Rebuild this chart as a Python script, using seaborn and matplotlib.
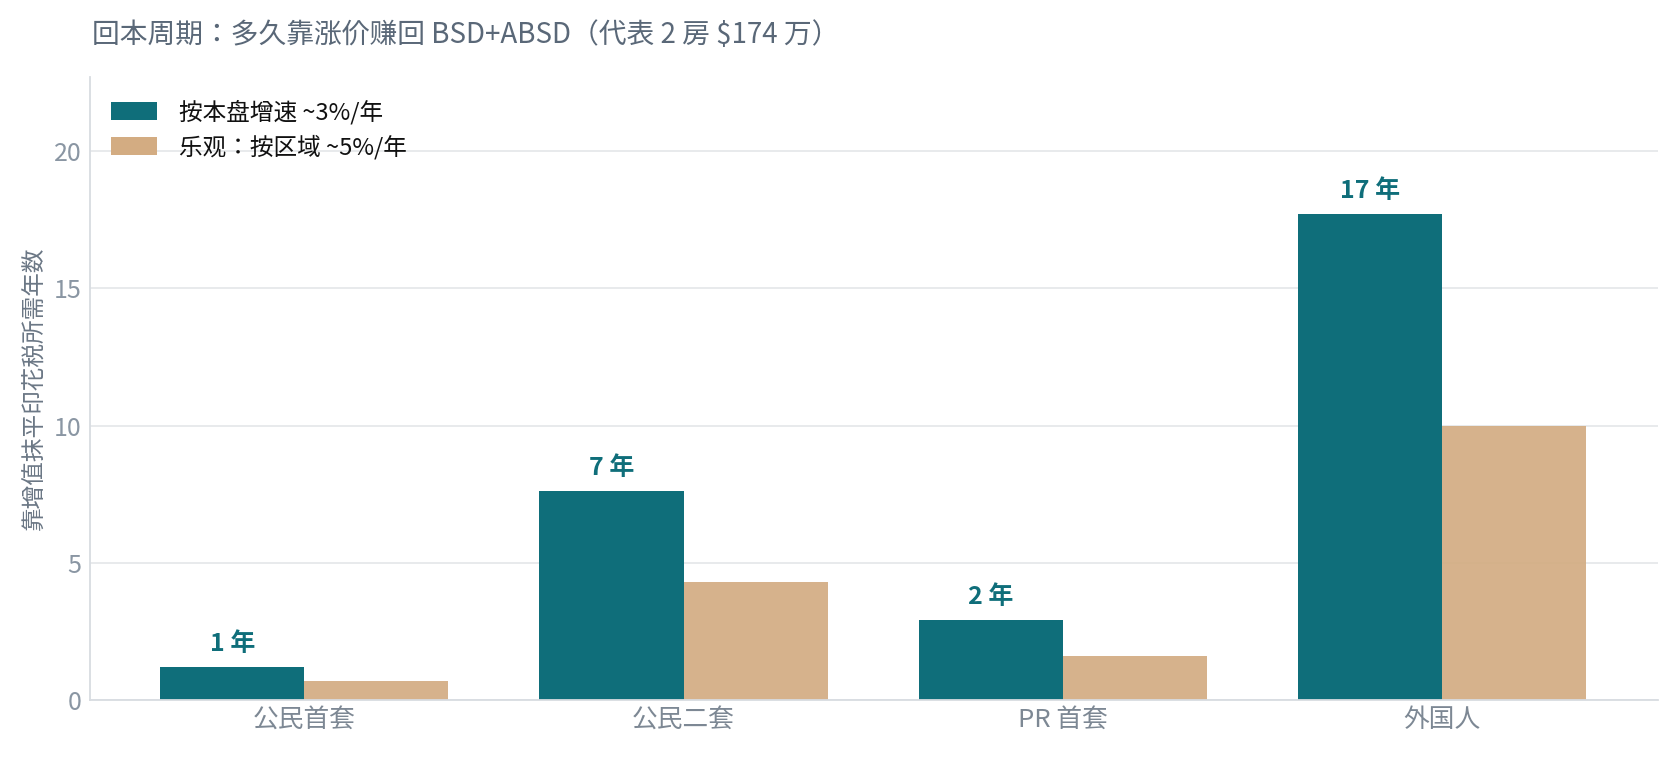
import matplotlib
matplotlib.use("Agg")
import matplotlib.pyplot as plt
import seaborn as sns
import pandas as pd

# data
categories = ["公民首套", "公民二套", "PR 首套", "外国人"]
base_years = [1.2, 7.6, 2.9, 17.7]       # 按本盘增速 ~3%/年
optim_years = [0.7, 4.3, 1.6, 10.0]      # 乐观：按区域 ~5%/年
base_labels = ["1 年", "7 年", "2 年", "17 年"]
series_names = ["按本盘增速 ~3%/年", "乐观：按区域 ~5%/年"]

teal = "#0f6e7a"
tan = "#d3ac82"

df = pd.DataFrame({
    "cat": categories * 2,
    "years": base_years + optim_years,
    "series": [series_names[0]] * 4 + [series_names[1]] * 4,
})

sns.set_theme(style="white")
# JP locale gives the centred full-width colon seen in the original
plt.rcParams["font.family"] = ["Noto Sans CJK JP", "DejaVu Sans"]

fig = plt.figure(figsize=(16.8, 7.8), dpi=100)
ax = fig.add_axes([0.0536, 0.1026, 0.9334, 0.7984])

sns.barplot(data=df, x="cat", y="years", hue="series", order=categories,
            hue_order=series_names, palette=[teal, tan], width=0.76, gap=0,
            saturation=1, linewidth=0, ax=ax, zorder=2)

# tan bars a bit see-through like the original
for p in ax.containers[1]:
    p.set_alpha(0.92)

for p, lab in zip(ax.containers[0], base_labels):
    ax.annotate(lab, (p.get_x() + p.get_width() / 2, p.get_height()),
                xytext=(0, 8), textcoords="offset points", ha="center", va="bottom",
                fontsize=18, fontweight="bold", color=teal)

ax.set_ylim(0, 22.7)
ax.set_xlim(-0.565, 3.57)
ax.set_yticks([0, 5, 10, 15, 20])
ax.yaxis.grid(True, color="#e6e8eb", linewidth=1.3, zorder=0)
ax.set_axisbelow(True)
for s in ["top", "right"]:
    ax.spines[s].set_visible(False)
for s in ["left", "bottom"]:
    ax.spines[s].set_color("#d8dce1")
    ax.spines[s].set_linewidth(1.3)
ax.tick_params(axis="y", labelsize=18, colors="#8a96a3", length=0, pad=6)
ax.tick_params(axis="x", labelsize=18.5, colors="#7d8894", length=0, pad=5)
ax.set_xlabel("")
ax.set_ylabel("靠增值抹平印花税所需年数", fontsize=17, color="#6b7785", labelpad=6)

leg = ax.legend(loc="upper left", frameon=False, fontsize=17,
                bbox_to_anchor=(0.0, 0.998), handlelength=1.95, handleheight=0.8,
                handletextpad=0.9, labelspacing=0.45)
for t in leg.get_texts():
    t.set_color("#111111")

fig.text(0.0545, 0.955, "回本周期：多久靠涨价赚回 BSD+ABSD（代表 2 房 $174 万）",
         fontsize=20, color="#5a6878", ha="left", va="center")

fig.savefig("out.png", dpi=100, facecolor="white")
